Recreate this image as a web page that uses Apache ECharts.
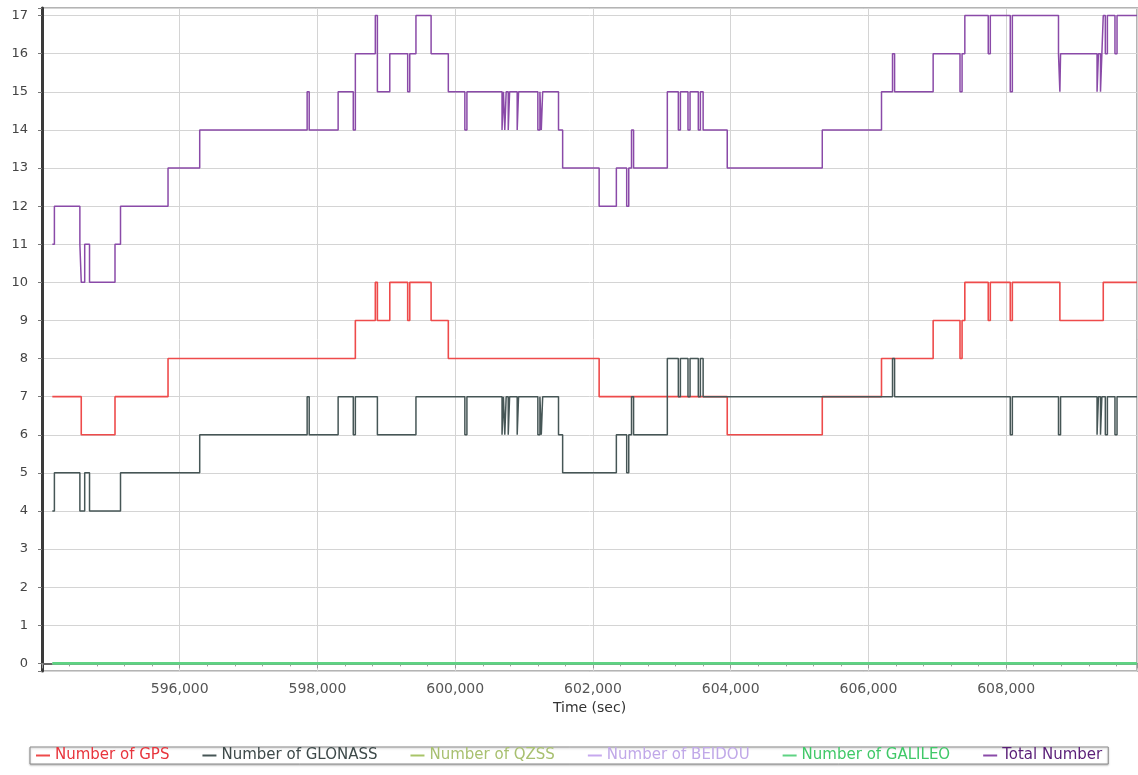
<!DOCTYPE html>
<html style="height:100%">
<head>
    <meta charset="utf-8">
    <script type="text/javascript" src="https://cdn.jsdelivr.net/npm/echarts@6/dist/echarts.min.js"></script>
    <title>Number of satellites</title>
</head>
<body style="height: 100%; margin: 0; background: #fff">
    <div id="container" style="width:1138px; height:775px"></div>
    <script type="text/javascript">
    var myChart = echarts.init(document.getElementById('container'));

    // change points [time (sec), count] - each value holds until the next point
    const gpsSteps = [
        [594150, 7], [594570, 6], [595060, 7], [595830, 8], [598550, 9], [598840, 10], [598870, 9],
        [599050, 10], [599310, 9], [599340, 10], [599650, 9], [599900, 8], [602090, 7], [603950, 6],
        [605330, 7], [606190, 8], [606940, 9], [607330, 8], [607360, 9], [607400, 10], [607740, 9],
        [607770, 10], [608060, 9], [608090, 10], [608780, 9], [609410, 10], [609900, 10]
    ];

    const glonassSteps = [
        [594150, 4], [594180, 5], [594550, 4], [594620, 5], [594690, 4], [595140, 5], [596290, 6],
        [597850, 7], [597880, 6], [598300, 7], [598520, 6], [598550, 7], [598870, 6], [599430, 7],
        [600140, 6], [600170, 7], [600680, 6], [600700, 7], [600720, 6], [600740, 7], [600770, 6],
        [600790, 7], [600900, 6], [600920, 7], [601200, 6], [601230, 7], [601250, 6], [601270, 7],
        [601500, 6], [601560, 5], [602340, 6], [602490, 5], [602520, 6], [602560, 7], [602590, 6],
        [603080, 8], [603240, 7], [603270, 8], [603380, 7], [603410, 8], [603530, 7], [603560, 8],
        [603600, 7], [606350, 8], [606380, 7], [608060, 6], [608090, 7], [608760, 6], [608790, 7],
        [609320, 6], [609340, 7], [609370, 6], [609390, 7], [609440, 6], [609470, 7], [609580, 6],
        [609610, 7], [609900, 7]
    ];

    const qzssSteps = [[594150, 0], [609900, 0]];
    const beidouSteps = [[594150, 0], [609900, 0]];
    const galileoSteps = [[594150, 0], [609900, 0]];

    const totalSteps = [
        [594150, 11], [594180, 12], [594550, 11], [594570, 10], [594620, 11], [594690, 10], [595060, 11],
        [595140, 12], [595830, 13], [596290, 14], [597850, 15], [597880, 14], [598300, 15], [598520, 14],
        [598550, 16], [598840, 17], [598870, 15], [599050, 16], [599310, 15], [599340, 16], [599430, 17],
        [599650, 16], [599900, 15], [600140, 14], [600170, 15], [600680, 14], [600700, 15], [600720, 14],
        [600740, 15], [600770, 14], [600790, 15], [600900, 14], [600920, 15], [601200, 14], [601230, 15],
        [601250, 14], [601270, 15], [601500, 14], [601560, 13], [602090, 12], [602340, 13], [602490, 12],
        [602520, 13], [602560, 14], [602590, 13], [603080, 15], [603240, 14], [603270, 15], [603380, 14],
        [603410, 15], [603530, 14], [603560, 15], [603600, 14], [603950, 13], [605330, 14], [606190, 15],
        [606350, 16], [606380, 15], [606940, 16], [607330, 15], [607360, 16], [607400, 17], [607740, 16],
        [607770, 17], [608060, 15], [608090, 17], [608760, 16], [608780, 15], [608790, 16], [609320, 15],
        [609340, 16], [609370, 15], [609390, 16], [609410, 17], [609440, 16], [609470, 17], [609580, 16],
        [609610, 17], [609900, 17]
    ];

    const seriesNames = ['Number of GPS', 'Number of GLONASS', 'Number of QZSS',
        'Number of BEIDOU', 'Number of GALILEO', 'Total Number'];
    const seriesData = [gpsSteps, glonassSteps, qzssSteps, beidouSteps, galileoSteps, totalSteps];
    const lineColors = ['#ee4b4b', '#465656', '#a8c468', '#c6a8ee', '#5ed383', '#8a4aa8'];
    const textColors = ['#e8343c', '#3e4a4a', '#a8c070', '#c0a8e8', '#40c868', '#5a1f78'];
    const lineWidths = [1.6, 1.5, 1.5, 1.5, 2.6, 1.5];

    var series = seriesNames.map(function(name, i) {
        return {
            name: name,
            type: 'line',
            step: 'end',
            data: seriesData[i],
            showSymbol: false,
            color: lineColors[i],
            lineStyle: { width: lineWidths[i], color: lineColors[i] },
            z: 2 + i
        };
    });

    var option = {
        animation: false,
        textStyle: { fontFamily: 'DejaVu Sans' },
        grid: {
            left: 42, right: 1, top: 8, bottom: 104, containLabel: false,
            show: true, borderColor: '#b4b4b4', borderWidth: 2
        },
        legend: {
            left: 30,
            top: 747,
            padding: [1, 6, 1, 6],
            borderColor: '#8a8a8a',
            borderWidth: 1,
            backgroundColor: '#fff',
            shadowColor: 'rgba(0,0,0,0.25)',
            shadowBlur: 2,
            shadowOffsetY: 1,
            icon: 'rect',
            itemWidth: 14,
            itemHeight: 2,
            itemGap: 33,
            textStyle: { fontSize: 15, fontFamily: 'DejaVu Sans' },
            data: seriesNames.map(function(name, i) {
                return { name: name, textStyle: { color: textColors[i] } };
            })
        },
        xAxis: {
            type: 'value',
            min: 594000,
            max: 609900,
            interval: 2000,
            name: 'Time (sec)',
            nameLocation: 'middle',
            nameGap: 27,
            nameTextStyle: { fontSize: 14, color: '#333' },
            axisLine: { lineStyle: { color: '#666', width: 2 } },
            axisTick: { show: true, length: 5, lineStyle: { color: '#999' } },
            minorTick: { show: true, splitNumber: 5, length: 3, lineStyle: { color: '#999' } },
            axisLabel: {
                fontSize: 14,
                color: '#555',
                margin: 11,
                showMinLabel: false,
                showMaxLabel: false,
                formatter: function(v) { return v.toLocaleString('en-US'); }
            },
            splitLine: { show: true, lineStyle: { color: '#d4d4d4', width: 1 } }
        },
        yAxis: {
            type: 'value',
            min: -0.2,
            max: 17.2,
            splitNumber: 17,
            axisLine: { show: true, lineStyle: { color: '#3a3a3a', width: 3 } },
            axisTick: { show: true, length: 4, lineStyle: { color: '#777' } },
            axisLabel: {
                fontSize: 13,
                color: '#444',
                margin: 14,
                formatter: function(v) { return Number.isInteger(v) ? String(v) : ''; }
            },
            splitLine: { show: true, lineStyle: { color: '#d4d4d4', width: 1 } }
        },
        series: series
    };

    myChart.setOption(option);
    </script>
</body>
</html>
